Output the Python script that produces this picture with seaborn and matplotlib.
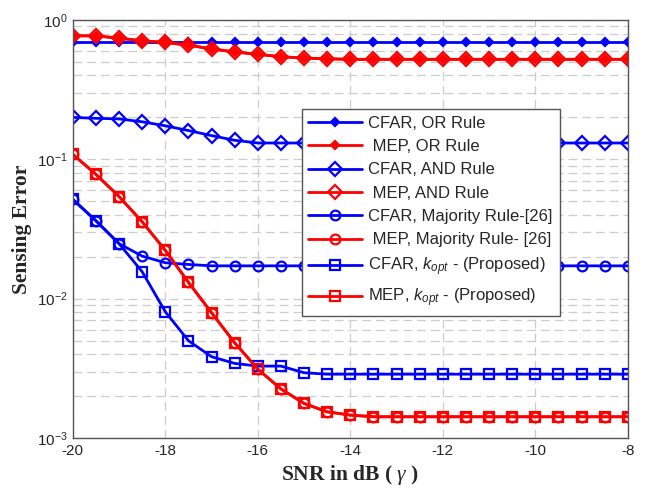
import numpy as np
import pandas as pd
import matplotlib
matplotlib.use("Agg")
import matplotlib.pyplot as plt
import seaborn as sns
from matplotlib.ticker import FixedLocator, FixedFormatter, LogLocator, NullFormatter

snr = [-20, -19.5, -19, -18.5, -18, -17.5, -17, -16.5, -16, -15.5, -15, -14.5,
       -14, -13.5, -13, -12.5, -12, -11.5, -11, -10.5, -10, -9.5, -9, -8.5, -8]

cfar_or = [0.69, 0.69, 0.69, 0.69, 0.69, 0.69, 0.69, 0.69, 0.69, 0.69, 0.69, 0.69,
           0.69, 0.69, 0.69, 0.69, 0.69, 0.69, 0.69, 0.69, 0.69, 0.69, 0.69, 0.69, 0.69]
mep_or = [0.77, 0.77, 0.74, 0.71, 0.69, 0.66, 0.62, 0.59, 0.567, 0.545, 0.533, 0.527,
          0.522, 0.522, 0.522, 0.522, 0.522, 0.522, 0.522, 0.522, 0.522, 0.522, 0.522, 0.522, 0.522]
cfar_and = [0.200, 0.197, 0.195, 0.186, 0.174, 0.161, 0.148, 0.137, 0.131, 0.131, 0.131, 0.131,
            0.131, 0.131, 0.131, 0.131, 0.131, 0.131, 0.131, 0.131, 0.131, 0.131, 0.131, 0.131, 0.131]
mep_and = mep_or
cfar_maj = [0.0516, 0.0362, 0.0248, 0.0202, 0.0181, 0.0176, 0.0172, 0.0172, 0.0172, 0.0172, 0.0172, 0.0172,
            0.0172, 0.0172, 0.0172, 0.0172, 0.0172, 0.0172, 0.0172, 0.0172, 0.0172, 0.0172, 0.0172, 0.0172, 0.0172]
mep_kopt = [0.1086, 0.078, 0.054, 0.0356, 0.0222, 0.0131, 0.00792, 0.00482, 0.00312, 0.00225, 0.00177, 0.00154,
            0.00146, 0.00142, 0.00142, 0.00142, 0.00142, 0.00142, 0.00142, 0.00142, 0.00142, 0.00142, 0.00142, 0.00142, 0.00142]
mep_maj = mep_kopt
cfar_kopt = [0.0516, 0.0362, 0.0248, 0.0156, 0.00805, 0.00499, 0.00383, 0.00343, 0.00328, 0.00328, 0.00294, 0.00287,
             0.00287, 0.00287, 0.00287, 0.00287, 0.00287, 0.00287, 0.00287, 0.00287, 0.00287, 0.00287, 0.00287, 0.00287, 0.00287]

labels = ["CFAR, OR Rule", " MEP, OR Rule", "CFAR, AND Rule", " MEP, AND Rule",
          "CFAR, Majority Rule-[26]", " MEP, Majority Rule- [26]",
          r"CFAR, $\mathsf{k_{opt}}$ - (Proposed)", r"MEP, $\mathsf{k_{opt}}$ - (Proposed)"]
xticks = [-20, -18, -16, -14, -12, -10, -8]
yticks = [1e-3, 1e-2, 1e-1, 1e0]
ytick_labels = [r"$\mathregular{10^{-3}}$", r"$\mathregular{10^{-2}}$",
                r"$\mathregular{10^{-1}}$", r"$\mathregular{10^{0}}$"]

sns.set_style("white")
plt.rcParams["font.family"] = ["Liberation Sans", "DejaVu Sans"]
plt.rcParams["mathtext.fontset"] = "custom"
plt.rcParams["mathtext.rm"] = "Liberation Sans"
plt.rcParams["mathtext.it"] = "Liberation Serif:italic"
plt.rcParams["mathtext.sf"] = "Liberation Sans:italic"

fig = plt.figure(figsize=(6.56, 4.88), dpi=100)
ax = fig.add_axes([0.111, 0.1025, 0.846, 0.8565])

blue = (0, 0, 1)
red = (1, 0, 0)
series = [
    (cfar_or, blue, "D", 4.5, True),
    (mep_or, red, "D", 4.5, True),
    (cfar_and, blue, "D", 7.5, False),
    (mep_and, red, "D", 7.5, False),
    (cfar_maj, blue, "o", 7, False),
    (mep_maj, red, "o", 7, False),
    (cfar_kopt, blue, "s", 7.5, False),
    (mep_kopt, red, "s", 7.5, False),
]
for (vals, col, mk, ms, filled), lab in zip(series, labels):
    sns.lineplot(x=snr, y=vals, ax=ax, color=col, marker=mk, markersize=ms,
                 markerfacecolor=col if filled else "none", markeredgecolor=col,
                 markeredgewidth=1.6, linewidth=2, label=lab, sort=False,
                 estimator=None)

ax.set_yscale("log")
ax.set_xlim(-20, -8)
ax.set_ylim(1e-3, 1)
ax.xaxis.set_major_locator(FixedLocator(xticks))
ax.set_xticklabels([str(t) for t in xticks])
ax.yaxis.set_major_locator(FixedLocator(yticks))
ax.yaxis.set_major_formatter(FixedFormatter(ytick_labels))
ax.yaxis.set_minor_locator(LogLocator(base=10, subs=np.arange(2, 10)))
ax.yaxis.set_minor_formatter(NullFormatter())
ax.tick_params(axis="both", which="major", labelsize=11, direction="in",
               length=4, color="#555555", pad=4)
ax.tick_params(axis="y", which="minor", direction="in", length=2, color="#555555")

ax.grid(True, which="major", axis="both", linestyle=(0, (7, 4)), color="#cccccc", linewidth=0.9)
ax.grid(True, which="minor", axis="y", linestyle=(0, (7, 4)), color="#cccccc", linewidth=0.9)
ax.set_axisbelow(True)
for sp in ax.spines.values():
    sp.set_color("#555555")
    sp.set_linewidth(1.0)

ax.set_xlabel(r"SNR in dB ( $\gamma$ )", fontsize=15.5, fontweight="bold",
              family=["Liberation Serif"], labelpad=4)
ax.set_ylabel("Sensing Error", fontsize=15.5, fontweight="bold",
              family=["Liberation Serif"], labelpad=3)

leg = ax.legend(loc="upper left", bbox_to_anchor=(0.4126, 0.787), borderaxespad=0,
                fontsize=12, handlelength=3.2, handletextpad=0.4, labelspacing=0.5,
                frameon=True, fancybox=False, framealpha=1, edgecolor="#555555",
                borderpad=0.4, numpoints=1)
leg.get_frame().set_linewidth(1.0)

fig.savefig("out.png", dpi=100)
